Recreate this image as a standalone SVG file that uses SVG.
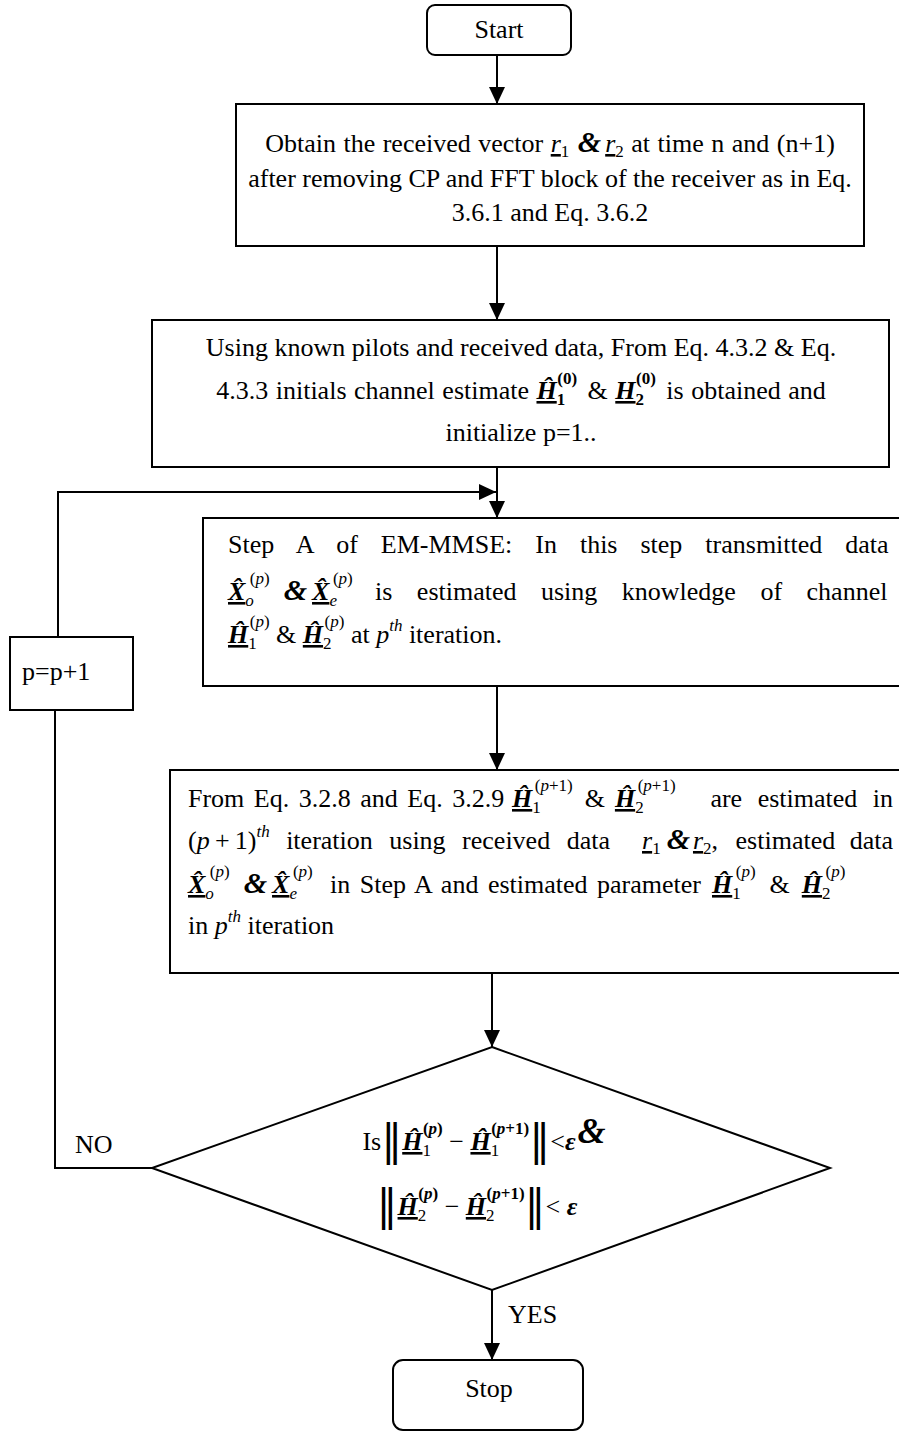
<svg xmlns="http://www.w3.org/2000/svg" width="899" height="1432" viewBox="0 0 899 1432">
<style>
.box{fill:none;stroke:#000;stroke-width:2}
.ln{fill:none;stroke:#000;stroke-width:2}
.t{font-family:"Liberation Serif","Times New Roman",serif;font-size:26px;fill:#000}
.i{font-style:italic}
.b{font-weight:bold}
.s{font-size:17px}
.u{text-decoration:underline}
.nb{font-family:"DejaVu Serif","Liberation Serif",serif;font-size:42px}
</style>
<defs>
<marker id="ah" markerUnits="userSpaceOnUse" markerWidth="16" markerHeight="16" refX="17" refY="8" orient="auto">
<path d="M0,0 L17,8 L0,16 z" fill="#000"/>
</marker>
</defs>
<rect width="899" height="1432" fill="#fff"/>

<g id="connectors">
<line class="ln" x1="497" y1="55" x2="497" y2="104" marker-end="url(#ah)"/>
<line class="ln" x1="497" y1="246" x2="497" y2="320" marker-end="url(#ah)"/>
<line class="ln" x1="497" y1="467" x2="497" y2="518" marker-end="url(#ah)"/>
<polyline class="ln" points="58,637 58,492 496,492" marker-end="url(#ah)"/>
<line class="ln" x1="497" y1="686" x2="497" y2="770" marker-end="url(#ah)"/>
<line class="ln" x1="492" y1="973" x2="492" y2="1047" marker-end="url(#ah)"/>
<line class="ln" x1="492" y1="1290" x2="492" y2="1360" marker-end="url(#ah)"/>
<polyline class="ln" points="152,1168 55,1168 55,710"/>
<text class="t" x="75" y="1153" font-size="24">NO</text>
<text class="t" x="508" y="1323" font-size="24">YES</text>
</g>

<g id="start">
<rect class="box" x="427" y="5" width="144" height="50" rx="8"/>
<text class="t" x="499" y="38" text-anchor="middle" font-size="24">Start</text>
</g>

<g id="obtain">
<rect class="box" x="236" y="104" width="628" height="142"/>
<text class="t" x="550" y="152" text-anchor="middle" word-spacing="1">Obtain the received vector <tspan class="i u">r</tspan><tspan class="s" dy="5">1</tspan><tspan class="i b" dy="-5" font-size="30"> &amp;</tspan><tspan class="i u" dx="4">r</tspan><tspan class="s" dy="5">2</tspan><tspan dy="-5"> at time n and (n+1)</tspan></text>
<text class="t" x="550" y="187" text-anchor="middle">after removing CP and FFT block of the receiver as in Eq.</text>
<text class="t" x="550" y="221" text-anchor="middle">3.6.1 and Eq. 3.6.2</text>
</g>

<g id="init">
<rect class="box" x="152" y="320" width="737" height="147"/>
<text class="t" x="521" y="356" text-anchor="middle" font-size="29">Using known pilots and received data, From Eq. 4.3.2 &amp; Eq.</text>
<text class="t" x="521" y="399" text-anchor="middle" font-size="29" word-spacing="1">4.3.3 initials channel estimate <tspan class="i u b">Ĥ</tspan><tspan class="s b" dy="6">1</tspan><tspan class="s b" dx="-8" dy="-21">(0)</tspan><tspan dy="15" dx="3"> &amp; </tspan><tspan class="i u b">H</tspan><tspan class="s b" dy="6">2</tspan><tspan class="s b" dx="-8" dy="-21">(0)</tspan><tspan dy="15" dx="3"> is obtained and</tspan></text>
<text class="t" x="521" y="441" text-anchor="middle" font-size="29">initialize p=1..</text>
</g>

<g id="increment">
<rect class="box" x="10" y="637" width="123" height="73"/>
<text class="t" x="22" y="680" font-size="24">p=p+1</text>
</g>

<g id="stepA">
<rect class="box" x="203" y="518" width="702" height="168"/>
<text class="t" x="228" y="553" font-size="27" word-spacing="16.5">Step A of EM-MMSE: In this step transmitted data</text>
<text class="t" x="228" y="600" font-size="27"><tspan class="i u b">X&#770;</tspan><tspan class="s i" dy="6">o</tspan><tspan class="s" dx="-4" dy="-22">(<tspan class="i">p</tspan>)</tspan><tspan class="i b" dy="16" font-size="30" dx="14">&amp;</tspan><tspan class="i u b" dx="5">X&#770;</tspan><tspan class="s i" dy="6">e</tspan><tspan class="s" dx="-4" dy="-22">(<tspan class="i">p</tspan>)</tspan></text>
<text class="t" x="375" y="600" font-size="27" word-spacing="18">is estimated using knowledge of channel</text>
<text class="t" x="228" y="643" font-size="27"><tspan class="i u b">Ĥ</tspan><tspan class="s" dy="6">1</tspan><tspan class="s" dx="-7" dy="-22">(<tspan class="i">p</tspan>)</tspan><tspan dy="16"> &amp; </tspan><tspan class="i u b">Ĥ</tspan><tspan class="s" dy="6">2</tspan><tspan class="s" dx="-7" dy="-22">(<tspan class="i">p</tspan>)</tspan><tspan dy="16"> at </tspan><tspan class="i">p</tspan><tspan class="s i" dy="-12">th</tspan><tspan dy="12"> iteration.</tspan></text>
</g>

<g id="update">
<rect class="box" x="170" y="770" width="735" height="203"/>
<text class="t" x="188" y="807" word-spacing="3">From Eq. 3.2.8 and Eq. 3.2.9</text>
<text class="t" x="512" y="807"><tspan class="i u b">Ĥ</tspan><tspan class="s" dy="6">1</tspan><tspan class="s" dx="-6" dy="-22">(<tspan class="i">p</tspan>+1)</tspan><tspan dy="16" dx="12">&amp;</tspan><tspan class="i u b" dx="10">Ĥ</tspan><tspan class="s" dy="6">2</tspan><tspan class="s" dx="-6" dy="-22">(<tspan class="i">p</tspan>+1)</tspan></text>
<text class="t" x="893" y="807" text-anchor="end" word-spacing="9">are estimated in</text>
<text class="t" x="188" y="849" word-spacing="10">(<tspan class="i">p</tspan>&#8201;+&#8201;1)<tspan class="s i" dy="-12">th</tspan><tspan dy="12"> iteration using received data</tspan></text>
<text class="t" x="642" y="849"><tspan class="i u">r</tspan><tspan class="s" dy="5">1</tspan><tspan class="i b" dy="-5" font-size="30" dx="6">&amp;</tspan><tspan class="i u" dx="3">r</tspan><tspan class="s" dy="5">2</tspan><tspan dy="-5">,</tspan></text>
<text class="t" x="893" y="849" text-anchor="end" word-spacing="8">estimated data</text>
<text class="t" x="188" y="893"><tspan class="i u b">X&#770;</tspan><tspan class="s i" dy="6">o</tspan><tspan class="s" dx="-4" dy="-22">(<tspan class="i">p</tspan>)</tspan><tspan class="i b" dy="16" font-size="30" dx="14">&amp;</tspan><tspan class="i u b" dx="5">X&#770;</tspan><tspan class="s i" dy="6">e</tspan><tspan class="s" dx="-4" dy="-22">(<tspan class="i">p</tspan>)</tspan></text>
<text class="t" x="330" y="893" word-spacing="3">in Step A and estimated parameter</text>
<text class="t" x="712" y="893"><tspan class="i u b">Ĥ</tspan><tspan class="s" dy="6">1</tspan><tspan class="s" dx="-5" dy="-22">(<tspan class="i">p</tspan>)</tspan><tspan dy="16" dx="14">&amp;</tspan><tspan class="i u b" dx="12">Ĥ</tspan><tspan class="s" dy="6">2</tspan><tspan class="s" dx="-5" dy="-22">(<tspan class="i">p</tspan>)</tspan></text>
<text class="t" x="188" y="934">in <tspan class="i">p</tspan><tspan class="s i" dy="-12">th</tspan><tspan dy="12"> iteration</tspan></text>
</g>

<g id="decision">
<polygon class="box" points="492,1047 830,1168 492,1290 152,1168"/>
<text class="t" x="484" y="1150" text-anchor="middle" font-size="27">Is<tspan class="nb" dy="5">‖</tspan><tspan class="i u b" dy="-5">Ĥ</tspan><tspan class="s" dy="6">1</tspan><tspan class="s b" dx="-8" dy="-22">(<tspan class="i">p</tspan>)</tspan><tspan dy="16"> − </tspan><tspan class="i u b">Ĥ</tspan><tspan class="s" dy="6">1</tspan><tspan class="s b" dx="-8" dy="-22">(<tspan class="i">p</tspan>+1)</tspan><tspan class="nb" dy="21">‖</tspan><tspan dy="-5">&lt;</tspan><tspan class="i b">ε</tspan><tspan class="i b" font-size="36" dy="-7" dx="2">&amp;</tspan></text>
<text class="t" x="477" y="1215" text-anchor="middle" font-size="27"><tspan class="nb" dy="5">‖</tspan><tspan class="i u b" dy="-5">Ĥ</tspan><tspan class="s" dy="6">2</tspan><tspan class="s b" dx="-8" dy="-22">(<tspan class="i">p</tspan>)</tspan><tspan dy="16"> − </tspan><tspan class="i u b">Ĥ</tspan><tspan class="s" dy="6">2</tspan><tspan class="s b" dx="-8" dy="-22">(<tspan class="i">p</tspan>+1)</tspan><tspan class="nb" dy="21">‖</tspan><tspan dy="-5">&lt;</tspan><tspan class="i b"> ε</tspan></text>
</g>

<g id="stop">
<rect class="box" x="393" y="1360" width="190" height="70" rx="10"/>
<text class="t" x="489" y="1397" text-anchor="middle" font-size="24">Stop</text>
</g>
</svg>
